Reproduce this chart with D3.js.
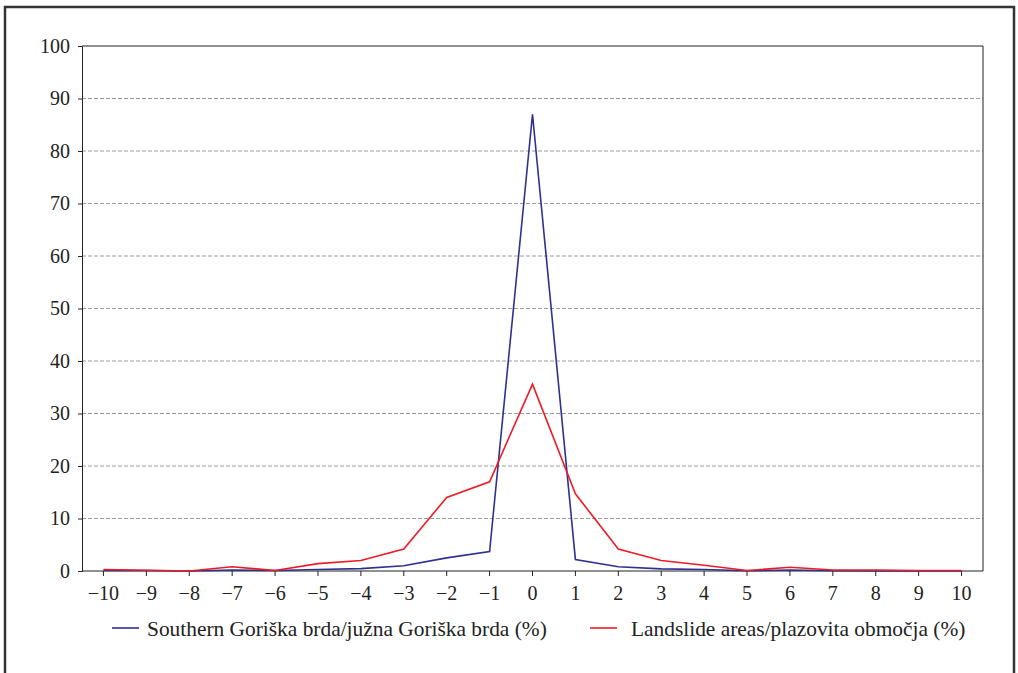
<!DOCTYPE html>
<html>
<head>
<meta charset="utf-8">
<script src="https://cdn.jsdelivr.net/npm/d3@7"></script>
<style>
  body { margin: 0; background: #fff; }
  text { font-family: "Liberation Serif", "DejaVu Serif", serif; fill: #222; }
</style>
</head>
<body>
<div id="chart"></div>
<script>
// categories on the x axis
var categories = [-10, -9, -8, -7, -6, -5, -4, -3, -2, -1, 0, 1, 2, 3, 4, 5, 6, 7, 8, 9, 10];

// Southern Goriška brda (%)
var goriska = [0.1, 0.1, 0, 0.2, 0.1, 0.3, 0.45, 1.0, 2.5, 3.7, 87.0, 2.2, 0.8, 0.4, 0.3, 0.05, 0.2, 0.05, 0, 0, 0];
// Landslide areas (%)
var landslide = [0.3, 0.15, 0, 0.8, 0.1, 1.4, 2.0, 4.2, 14.0, 17.0, 35.6, 14.7, 4.2, 2.0, 1.1, 0.1, 0.7, 0.2, 0.2, 0.1, 0.1];

var yTicks = [0, 10, 20, 30, 40, 50, 60, 70, 80, 90, 100];
var seriesNames = ["Southern Goriška brda/južna Goriška brda (%)", "Landslide areas/plazovita območja (%)"];
var colors = ["#2e3192", "#ed1c24"];

var width = 1018, height = 673;
var plotL = 82, plotR = 983, plotT = 46, plotB = 571;

var svg = d3.select("#chart").append("svg")
  .attr("width", width)
  .attr("height", height);

// outer frame
svg.append("rect")
  .attr("x", 5).attr("y", 7)
  .attr("width", 1009).attr("height", 700)
  .attr("fill", "none")
  .attr("stroke", "#333")
  .attr("stroke-width", 2.5);

var x = d3.scaleBand().domain(categories).range([plotL, plotR]);
var y = d3.scaleLinear().domain([0, 100]).range([plotB, plotT]);

// gridlines
svg.append("g")
  .selectAll("line")
  .data(yTicks.filter(function(d){ return d > 0 && d < 100; }))
  .enter().append("line")
  .attr("x1", plotL).attr("x2", plotR)
  .attr("y1", function(d){ return y(d); })
  .attr("y2", function(d){ return y(d); })
  .attr("stroke", "#9a9a9a")
  .attr("stroke-dasharray", "4,2");

// plot box top and right
svg.append("path")
  .attr("d", "M" + plotL + "," + plotT + "H" + plotR + "V" + plotB)
  .attr("fill", "none")
  .attr("stroke", "#222")
  .attr("stroke-width", 1);

var fmt = function(d){ return d < 0 ? "\u2212" + Math.abs(d) : String(d); };

var xAxis = d3.axisBottom(x).tickSize(5).tickPadding(10).tickFormat(fmt);
var yAxis = d3.axisLeft(y).tickValues(yTicks).tickSize(4).tickPadding(8);

var gx = svg.append("g")
  .attr("transform", "translate(0," + plotB + ")")
  .call(xAxis);
var gy = svg.append("g")
  .attr("transform", "translate(" + plotL + ",0)")
  .call(yAxis);

[gx, gy].forEach(function(g){
  g.select(".domain").attr("stroke", "#222");
  g.selectAll(".tick line").attr("stroke", "#222");
  g.selectAll("text")
    .style("font-family", "'Liberation Serif', serif")
    .style("font-size", "20px")
    .attr("fill", "#222");
});
gx.select(".domain").attr("d", "M" + plotL + ",0H" + plotR);

// lines
var line = d3.line()
  .x(function(d, i){ return x(categories[i]) + x.bandwidth() / 2; })
  .y(function(d){ return y(d); });

[goriska, landslide].forEach(function(series, i){
  svg.append("path")
    .datum(series)
    .attr("d", line)
    .attr("fill", "none")
    .attr("stroke", colors[i])
    .attr("stroke-width", 1.6)
    .attr("stroke-linejoin", "miter");
});

// legend
var legendPos = [112, 590];
var legendTextOffset = [35, 41];
seriesNames.forEach(function(name, i){
  var g = svg.append("g").attr("transform", "translate(" + legendPos[i] + ",628)");
  g.append("line")
    .attr("x1", 0).attr("x2", 27)
    .attr("stroke", colors[i])
    .attr("stroke-width", 1.6);
  g.append("text")
    .attr("x", legendTextOffset[i]).attr("y", 8)
    .style("font-size", "21.4px")
    .text(name);
});
</script>
</body>
</html>
